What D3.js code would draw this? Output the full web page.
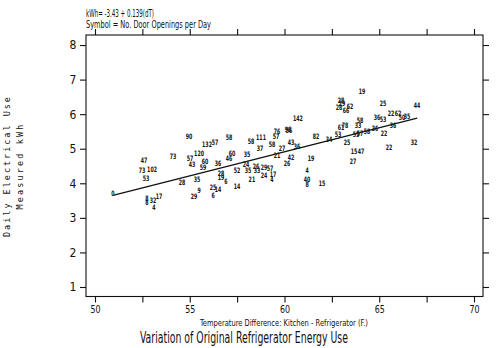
<!DOCTYPE html>
<html>
<head>
<meta charset="utf-8">
<script src="https://cdn.jsdelivr.net/npm/d3@7"></script>
<style>
  html, body { margin: 0; padding: 0; background: #fff; }
  svg { display: block; }
  text { fill: #111; }
</style>
</head>
<body>
<svg id="chart" width="500" height="348"></svg>
<script>
// Number of door openings per day, used as the plotting symbol for each refrigerator
const doorOpenings = [
  "0","47","73","102","53","8","8","32","17","4",
  "73","28","90","132","57","58","120","57","43","60",
  "59","36","60","46","35","37","24","52","35","26",
  "29","57","33","24","17","4","21","28","19","6",
  "14","25","14","6","9","29","35","142","96","56",
  "76","57","111","58","58","43","36","27","21","42",
  "26","19","82","34","4","40","8","15","19","28",
  "29","28","62","66","25","22","62","50","35","44",
  "36","53","58","33","61","78","53","25","55","57",
  "58","36","22","36","15","47","27","22","32"
];
// Temperature difference, kitchen minus refrigerator (°F)
const tempDiff = [
  50.95,52.59,52.48,53.01,52.69,52.74,52.74,53.06,53.38,53.11,
  54.12,54.59,54.96,55.91,56.33,57.07,55.49,55.01,55.12,55.80,
  55.70,56.49,57.23,57.07,58.02,58.71,57.97,57.49,58.07,58.50,
  58.92,59.23,58.55,58.92,59.39,59.34,58.28,56.65,56.65,56.91,
  57.49,56.23,56.49,56.23,55.49,55.22,55.38,60.71,60.18,60.24,
  59.60,59.55,58.76,59.34,58.23,60.34,60.66,59.87,59.60,60.34,
  60.13,61.40,61.66,62.35,61.19,61.19,61.19,61.98,64.09,62.98,
  63.03,62.88,63.46,63.25,65.20,65.62,65.99,66.20,66.46,66.99,
  64.88,65.20,63.98,63.88,62.98,63.19,62.82,63.30,63.77,63.98,
  64.35,64.78,65.25,65.73,63.67,64.04,63.61,65.51,66.83
];
// Measured daily electrical use (kWh)
const kwh = [
  3.70,4.67,4.38,4.41,4.15,3.55,3.46,3.52,3.63,3.31,
  4.79,4.04,5.37,5.14,5.17,5.34,4.88,4.73,4.56,4.64,
  4.47,4.59,4.88,4.73,4.85,5.02,4.56,4.38,4.36,4.50,
  4.47,4.44,4.36,4.24,4.27,4.10,4.12,4.30,4.18,4.07,
  3.92,3.89,3.83,3.66,3.80,3.63,4.10,5.89,5.57,5.54,
  5.51,5.37,5.34,5.14,5.22,5.17,5.08,5.02,4.82,4.76,
  4.59,4.73,5.37,5.28,4.38,4.12,3.98,4.01,6.67,6.41,
  6.32,6.21,6.24,6.12,6.32,6.03,6.03,5.92,5.95,6.26,
  5.92,5.86,5.83,5.69,5.63,5.69,5.43,5.19,5.43,5.45,
  5.51,5.60,5.45,5.69,4.91,4.93,4.64,5.05,5.19
];

// Fitted line kWh = a + b·dT over the observed range
const fitIntercept = -3.43;
const fitSlope = 0.139;
const fitRange = [51, 67];

const xTickValues = [50, 55, 60, 65, 70];
const xMinorValues = [52.5, 57.5, 62.5, 67.5];
const yTickValues = [1, 2, 3, 4, 5, 6, 7, 8];

const narrow = "'Liberation Sans Narrow','DejaVu Sans Condensed','Liberation Sans',sans-serif";
const mono = "'DejaVu Sans Mono','Liberation Mono',monospace";

const svg = d3.select("#chart");

const x = d3.scaleLinear().domain([49.525, 70.475]).range([86, 483]);
const y = d3.scaleLinear().domain([0.725, 8.29]).range([296.5, 35]);

// Frame
const [x0, x1] = x.range();
const [y0, y1] = y.range();
svg.append("rect")
  .attr("x", x0).attr("y", y1)
  .attr("width", x1 - x0).attr("height", y0 - y1)
  .attr("fill", "none").attr("stroke", "#111").attr("stroke-width", 1.1);

// Bottom axis: labelled majors plus unlabelled half-way ticks
const allX = xTickValues.concat(xMinorValues).sort((a, b) => a - b);
const axisB = svg.append("g").attr("transform", `translate(0,${y0})`)
  .call(d3.axisBottom(x).tickValues(allX).tickSize(6).tickPadding(3)
    .tickFormat(d => xTickValues.includes(d) ? d3.format("d")(d) : ""));
axisB.select(".domain").remove();
axisB.selectAll("line").attr("stroke", "#111").attr("stroke-width", 1.1);
axisB.selectAll("text")
  .attr("font-family", narrow).attr("font-size", 11).attr("fill", "#111")
  .attr("transform", "scale(0.8,1)");

// Top axis: ticks only
const axisT = svg.append("g").attr("transform", `translate(0,${y1})`)
  .call(d3.axisTop(x).tickValues(allX).tickSize(6).tickFormat(""));
axisT.select(".domain").remove();
axisT.selectAll("line").attr("stroke", "#111").attr("stroke-width", 1.1);

// Left axis
const axisL = svg.append("g").attr("transform", `translate(${x0},0)`)
  .call(d3.axisLeft(y).tickValues(yTickValues).tickSize(6).tickPadding(6)
    .tickFormat(d3.format("d")));
axisL.select(".domain").remove();
axisL.selectAll("line").attr("stroke", "#111").attr("stroke-width", 1.1);
axisL.selectAll("text")
  .attr("font-family", narrow).attr("font-size", 12).attr("fill", "#111")
  .attr("text-anchor", "middle").attr("x", -13);

// Right axis: ticks only
const axisR = svg.append("g").attr("transform", `translate(${x1},0)`)
  .call(d3.axisRight(y).tickValues(yTickValues).tickSize(6).tickFormat(""));
axisR.select(".domain").remove();
axisR.selectAll("line").attr("stroke", "#111").attr("stroke-width", 1.1);

// Regression line
svg.append("line")
  .attr("x1", x(fitRange[0])).attr("y1", y(fitIntercept + fitSlope * fitRange[0]))
  .attr("x2", x(fitRange[1])).attr("y2", y(fitIntercept + fitSlope * fitRange[1]))
  .attr("stroke", "#111").attr("stroke-width", 1.3);

// Points drawn as their door-opening counts
const points = doorOpenings.map((s, i) => ({ s, t: tempDiff[i], k: kwh[i] }));
svg.append("g").selectAll("text").data(points).join("text")
  .attr("transform", d => `translate(${x(d.t)},${y(d.k)}) scale(0.7,1)`)
  .attr("text-anchor", "middle")
  .attr("dy", "0.35em")
  .attr("font-family", narrow)
  .attr("font-weight", "bold")
  .attr("font-size", 7.5)
  .text(d => d.s);

// Header lines
svg.append("text").attr("x", 86).attr("y", 17)
  .attr("font-family", narrow).attr("font-size", 10.5)
  .attr("textLength", 68).attr("lengthAdjust", "spacingAndGlyphs")
  .text("kWh= -3.43 + 0.139(dT)");
svg.append("text").attr("x", 86).attr("y", 28)
  .attr("font-family", narrow).attr("font-size", 10.5)
  .attr("textLength", 125).attr("lengthAdjust", "spacingAndGlyphs")
  .text("Symbol = No. Door Openings per Day");

// Axis titles
svg.append("text").attr("x", 284).attr("y", 326)
  .attr("text-anchor", "middle")
  .attr("font-family", narrow).attr("font-size", 9.5)
  .attr("textLength", 168).attr("lengthAdjust", "spacingAndGlyphs")
  .text("Temperature Difference: Kitchen - Refrigerator (F.)");

svg.append("text").attr("x", 244).attr("y", 343)
  .attr("text-anchor", "middle")
  .attr("font-family", narrow).attr("font-size", 15)
  .attr("textLength", 208).attr("lengthAdjust", "spacingAndGlyphs")
  .text("Variation of Original Refrigerator Energy Use");

svg.append("text")
  .attr("transform", "translate(10,167) rotate(-90)")
  .attr("text-anchor", "middle")
  .attr("font-family", mono).attr("font-size", 8.5)
  .attr("textLength", 140).attr("lengthAdjust", "spacing")
  .text("Daily Electrical Use");
svg.append("text")
  .attr("transform", "translate(23,167) rotate(-90)")
  .attr("text-anchor", "middle")
  .attr("font-family", mono).attr("font-size", 8.5)
  .attr("textLength", 85).attr("lengthAdjust", "spacing")
  .text("Measured kWh");
</script>
</body>
</html>
